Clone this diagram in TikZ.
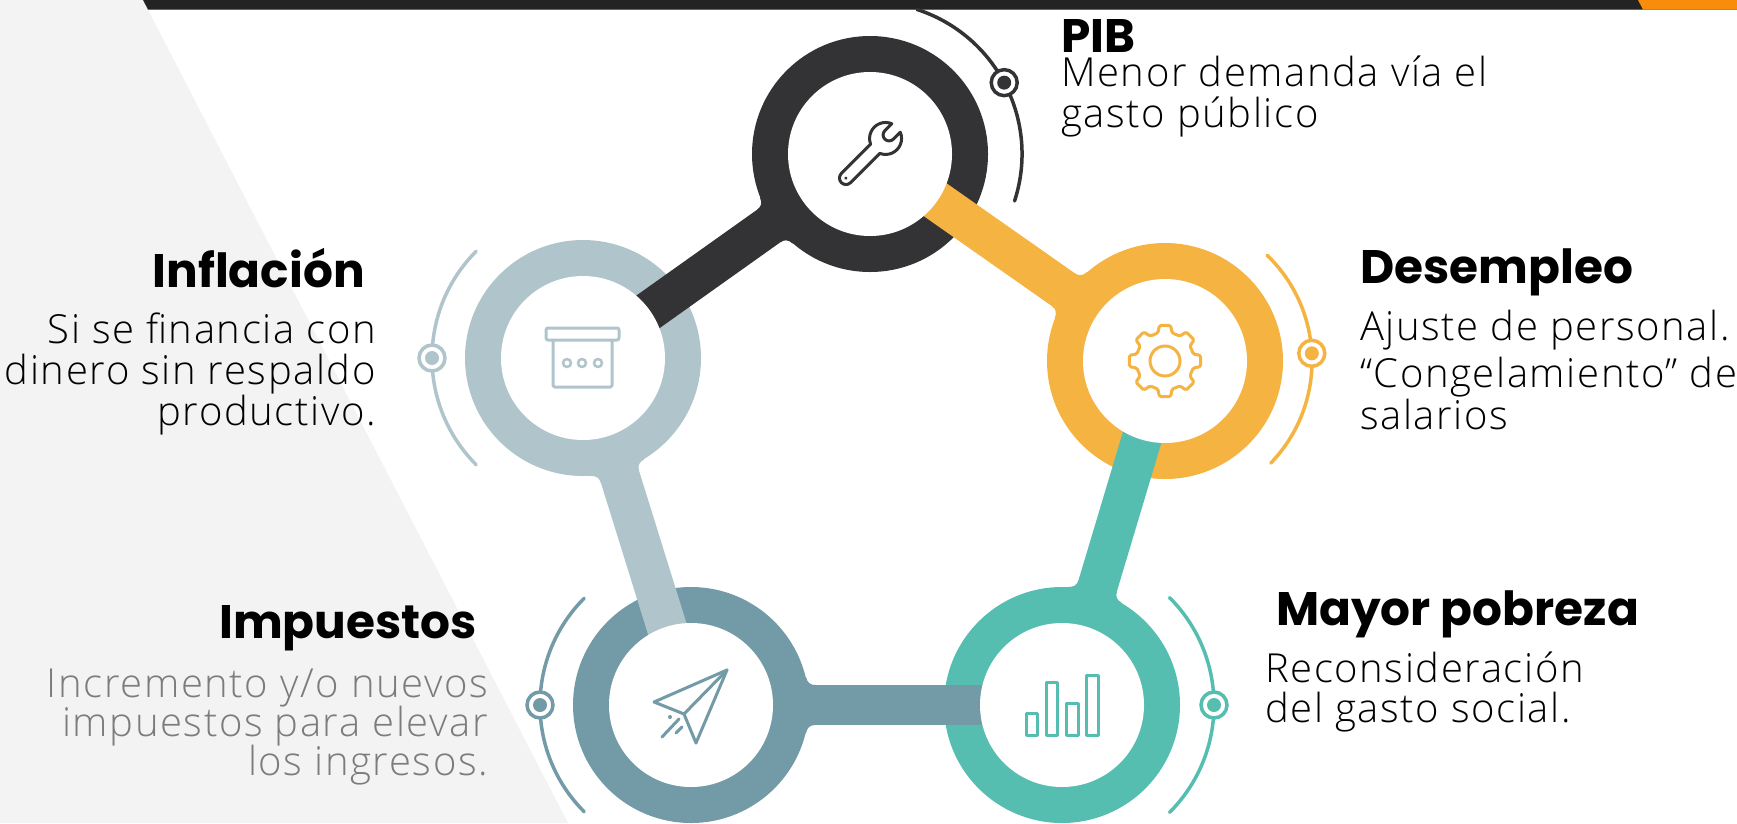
\documentclass[tikz,border=0pt]{standalone}
\usepackage{fontspec}
\usetikzlibrary{calc}
\IfFontExistsTF{Open Sans Light}{\newfontfamily\bodyfont{Open Sans Light}[LetterSpace=4]}{%
  \IfFontExistsTF{OpenSans-Light}{\newfontfamily\bodyfont{OpenSans-Light}[LetterSpace=4]}{%
    \IfFontExistsTF{Noto Sans Light}{\newfontfamily\bodyfont{Noto Sans Light}[LetterSpace=4]}{%
      \newfontfamily\bodyfont{Open Sans}[LetterSpace=4]}}}
\newfontfamily\headfont{Poppins}

\definecolor{ink}{HTML}{333335}
\definecolor{mist}{HTML}{B0C4CB}
\definecolor{amber}{HTML}{F5B342}
\definecolor{jade}{HTML}{56BDB1}
\definecolor{slate}{HTML}{729BA7}
\definecolor{paper}{HTML}{F3F3F3}
\definecolor{band}{HTML}{232323}
\definecolor{flame}{HTML}{FA8C0B}
\definecolor{dim}{HTML}{7C7C7C}

\tikzset{
  ring/.style={circle,fill=#1,minimum size=236pt,inner sep=0pt},
  hole/.style={circle,fill=white,minimum size=164pt,inner sep=0pt},
  link/.style={line width=40pt,#1},
  orbit/.style={line width=3.5pt,line cap=round,#1},
  dot/.style={circle,draw=#1,line width=3.5pt,fill=white,minimum size=26pt,inner sep=0pt},
  icon/.style={line width=3pt,line join=round,line cap=round,#1},
  head/.style={font=\headfont\bfseries\fontsize{47}{47}\selectfont,inner sep=0pt},
  body/.style={font=\bodyfont\fontsize{40}{41}\selectfont,inner sep=0pt},
}

% flared joint where a link leaves its own ring
\newcommand{\joint}[3]{%
  \fill[#3] ($(#1)!124pt!(#2)!20pt!90:(#2)$)
    .. controls ($(#1)!119pt!(#2)!20pt!90:(#2)$) and ($(#1)!116pt!(#2)!23pt!90:(#2)$) .. ($(#1)!115pt!(#2)!28pt!90:(#2)$)
    -- ($(#1)!100pt!(#2)!28pt!90:(#2)$) -- ($(#1)!100pt!(#2)!28pt!-90:(#2)$)
    -- ($(#1)!115pt!(#2)!28pt!-90:(#2)$)
    .. controls ($(#1)!116pt!(#2)!23pt!-90:(#2)$) and ($(#1)!119pt!(#2)!20pt!-90:(#2)$) .. ($(#1)!124pt!(#2)!20pt!-90:(#2)$)
    -- cycle;}

\begin{document}
\begin{tikzpicture}[x=1pt,y=-1pt]
\useasboundingbox (0,0) rectangle (1737,823);
% background
\fill[paper] (0,0) -- (143,0) -- (568,823) -- (0,823) -- cycle;
\fill[band] (143,0) -- (1737,0) -- (1737,9.5) -- (148,9.5) -- cycle;
\fill[flame] (1638,0) -- (1737,0) -- (1737,9.5) -- (1643,9.5) -- cycle;
\draw[line width=1.2pt,black!60] (148,9.8) -- (1643,9.8);

% rings
\node[ring=ink] (pib) at (870,154) {};
\node[ring=mist] (infl) at (583,358) {};
\node[ring=amber] (desem) at (1165,361) {};
\node[ring=slate] (impu) at (691,705) {};
\node[ring=jade] (pobr) at (1062,705) {};

% outer arcs
\draw[orbit=ink] (pib.center) ++(-72:152) arc[start angle=-72,end angle=18,radius=152];
\draw[orbit=mist] (infl.center) ++(135:151) arc[start angle=135,end angle=225,radius=151];
\draw[orbit=amber] (desem.center) ++(-46:147) arc[start angle=-46,end angle=44,radius=147];
\draw[orbit=slate] (impu.center) ++(135:151) arc[start angle=135,end angle=225,radius=151];
\draw[orbit=jade] (pobr.center) ++(-45:152) arc[start angle=-45,end angle=45,radius=152];
\node[dot=ink] (pib-dot) at ($(pib.center)+(-28:152)$) {};
\node[dot=mist] (infl-dot) at ($(infl.center)+(180:151)$) {};
\node[dot=amber] (desem-dot) at ($(desem.center)+(-3:147)$) {};
\node[dot=slate] (impu-dot) at ($(impu.center)+(180:151)$) {};
\node[dot=jade] (pobr-dot) at ($(pobr.center)+(0:152)$) {};
\foreach \n/\c in {pib/ink,infl/mist,desem/amber,impu/slate,pobr/jade}
  \fill[\c] (\n-dot) circle (7);

% links
\draw[link=ink] (pib.center) -- (infl.center);
\draw[link=amber] (pib.center) -- (desem.center);
\draw[link=mist] (infl.center) -- (impu.center);
\draw[link=jade] (desem.center) -- (pobr.center);
\draw[link=slate] (impu.center) -- (pobr.center);
\joint{pib}{infl}{ink}
\joint{desem}{pib}{amber}
\joint{infl}{impu}{mist}
\joint{pobr}{desem}{jade}
\joint{impu}{pobr}{slate}

% holes
\foreach \n in {pib,infl,desem,impu,pobr}
  \node[hole] (\n-in) at (\n.center) {};

% icons
\begin{scope}[shift={(pib.center)},rotate=45]
  \draw[icon=ink] (-34,-6.5) -- (7.38,-6.5) arc[start angle=-156,end angle=-22,radius=16]
    -- (27,-6) arc[start angle=-90,end angle=-270,radius=6] -- (36.83,6)
    arc[start angle=22,end angle=156,radius=16] -- (-34,6.5)
    arc[start angle=90,end angle=270,radius=6.5] -- cycle;
  \fill[ink] (-34,0) circle (1.8);
\end{scope}
\begin{scope}[shift={(infl.center)}]
  \draw[icon=mist,rounded corners=2] (-37,-30) rectangle (36,-18);
  \draw[icon=mist,rounded corners=1.5] (-30,-18) -- (-30,29) -- (29,29) -- (29,-18);
  \foreach \x in {-16,-1,15}
    \draw[icon=mist,line width=2.5pt] (\x,5) circle (4);
\end{scope}
\begin{scope}[shift={(desem.center)}]
  \draw[icon=amber,rounded corners=1.5] (-22.5:29)
    \foreach \a in {0,45,...,315}{ -- (\a-14:29) -- (\a-9:36) -- (\a+9:36) -- (\a+14:29) } -- cycle;
  \draw[icon=amber] (0,0) circle (15);
\end{scope}
\begin{scope}[shift={(impu.center)}]
  \draw[icon=slate] (36,-35) -- (-37,-3) -- (-7,9) -- (5,38) -- cycle;
  \draw[icon=slate] (-7,9) -- (36,-35);
  \draw[icon=slate] (-29,32) -- (-12,14);
  \draw[icon=slate] (-15,28) -- (-9,22);
  \fill[slate] (-21,12) circle (2);
\end{scope}
\begin{scope}[shift={(pobr.center)}]
  \draw[icon=jade] (-36,30) rectangle (-25,8);
  \draw[icon=jade] (-16,30) rectangle (-5,-23);
  \draw[icon=jade] (4,30) rectangle (16,-2);
  \draw[icon=jade] (24,30) rectangle (36,-30);
\end{scope}

% texts
\node[head,anchor=base west] (pib-t) at (1061,52) {PIB};
\node[body,anchor=base west] (pib-1) at (1061,86) {Menor demanda vía el};
\node[body,anchor=base west] (pib-2) at (1061,127) {gasto público};

\node[head,anchor=base west] (desem-t) at (1360,283) {Desempleo};
\node[body,anchor=base west] (desem-1) at (1360,340) {Ajuste de personal.};
\node[body,anchor=base west] (desem-2) at (1360,387) {“Congelamiento” de};
\node[body,anchor=base west] (desem-3) at (1360,429) {salarios};

\node[head,anchor=base west] (pobr-t) at (1276,625) {Mayor pobreza};
\node[body,anchor=base west] (pobr-1) at (1265,682) {Reconsideración};
\node[body,anchor=base west] (pobr-2) at (1265,722) {del gasto social.};

\node[head,anchor=base east] (infl-t) at (365,287) {Inflación};
\node[body,anchor=base east] (infl-1) at (376,343) {Si se financia con};
\node[body,anchor=base east] (infl-2) at (376,384) {dinero sin respaldo};
\node[body,anchor=base east] (infl-3) at (376,425) {productivo.};

\node[head,anchor=base east] (impu-t) at (477,638) {Impuestos};
\node[body,anchor=base east,text=dim] (impu-1) at (488,697) {Incremento y/o nuevos};
\node[body,anchor=base east,text=dim] (impu-2) at (488,736) {impuestos para elevar};
\node[body,anchor=base east,text=dim] (impu-3) at (488,775) {los ingresos.};
\end{tikzpicture}
\end{document}
